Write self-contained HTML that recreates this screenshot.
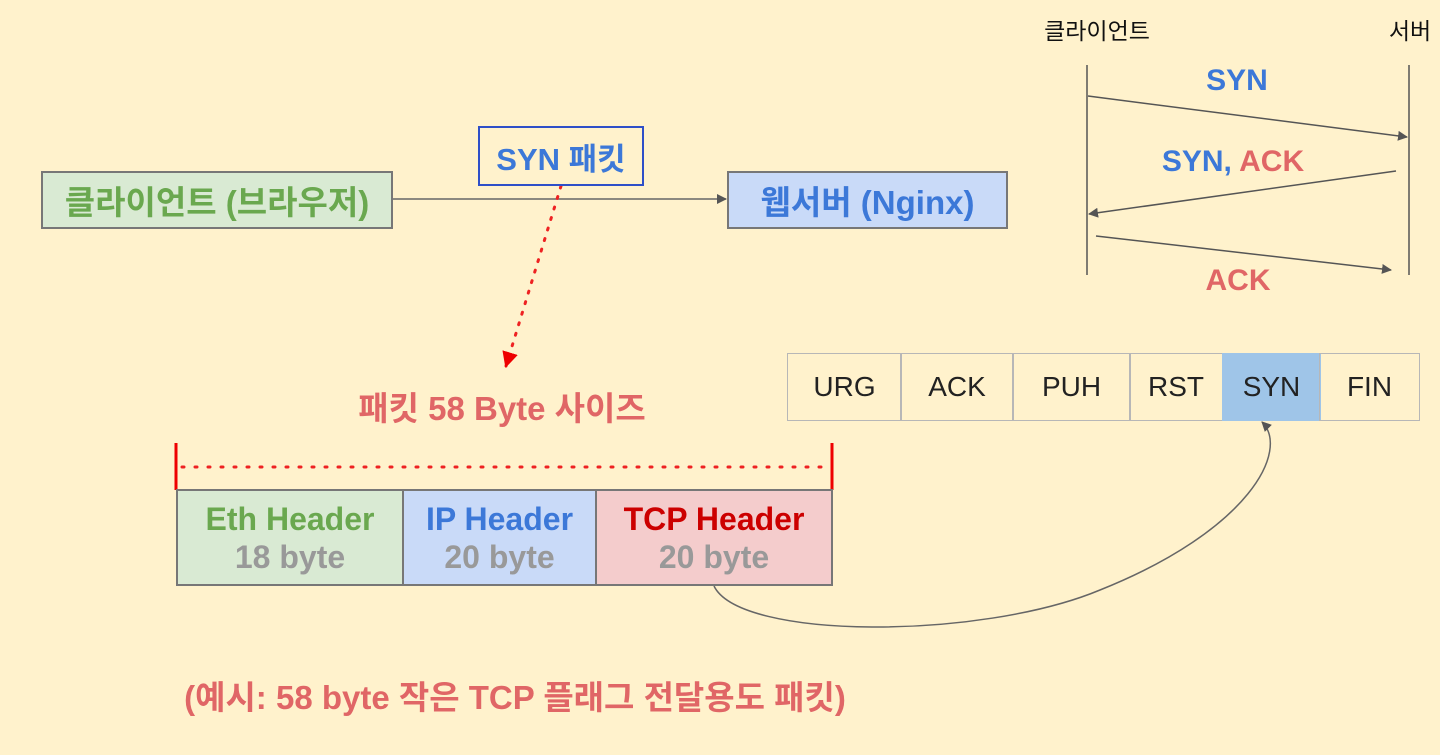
<!DOCTYPE html>
<html><head><meta charset="utf-8"><style>
body{margin:0;width:1440px;height:755px;background:#fff2cc;position:relative;overflow:hidden;font-family:"Liberation Sans","Noto Sans CJK KR",sans-serif}
.b{position:absolute;box-sizing:border-box;display:flex;align-items:center;justify-content:center;font-weight:bold}
.t{position:absolute;font-weight:bold;white-space:nowrap;transform:translate(-50%,-50%)}
.f{position:absolute;top:353px;height:68px;box-sizing:border-box;border:1.5px solid #b7b7b7;display:flex;align-items:center;justify-content:center;font-size:28px;color:#222}
</style></head><body>
<svg width="1440" height="755" style="position:absolute;left:0;top:0">
<defs>
<marker id="a" markerWidth="10" markerHeight="10" refX="9" refY="5" orient="auto" markerUnits="userSpaceOnUse"><path d="M0,0L10,5L0,10z" fill="#555"/></marker>
<marker id="r" markerWidth="16" markerHeight="16" refX="14" refY="8" orient="auto" markerUnits="userSpaceOnUse"><path d="M0,0L16,8L0,16z" fill="#e00"/></marker>
</defs>
<line x1="392" y1="199" x2="726" y2="199" stroke="#666" stroke-width="1.5" marker-end="url(#a)"/>
<line x1="561" y1="186" x2="506" y2="366" stroke="#e22" stroke-width="3" stroke-dasharray="2,9" stroke-linecap="round" marker-end="url(#r)"/>
<line x1="176" y1="443" x2="176" y2="490" stroke="#e00" stroke-width="3"/>
<line x1="832" y1="443" x2="832" y2="490" stroke="#e00" stroke-width="3"/>
<line x1="182" y1="467" x2="828" y2="467" stroke="#e22" stroke-width="3" stroke-dasharray="2,11" stroke-linecap="round"/>
<path d="M714,586 C740,640 980,640 1100,590 C1250,530 1290,450 1262,422" fill="none" stroke="#666" stroke-width="1.5" marker-end="url(#a)"/>
<line x1="1087" y1="65" x2="1087" y2="275" stroke="#555" stroke-width="1.5"/>
<line x1="1409" y1="65" x2="1409" y2="275" stroke="#555" stroke-width="1.5"/>
<line x1="1088" y1="96" x2="1407" y2="137" stroke="#555" stroke-width="1.5" marker-end="url(#a)"/>
<line x1="1396" y1="171" x2="1089" y2="214" stroke="#555" stroke-width="1.5" marker-end="url(#a)"/>
<line x1="1096" y1="236" x2="1391" y2="270" stroke="#555" stroke-width="1.5" marker-end="url(#a)"/>
</svg>
<div class="b" style="left:41px;top:171px;width:352px;height:58px;background:#d9ead3;border:2px solid #777;color:#6aa84f;font-size:33px">클라이언트 (브라우저)</div>
<div class="b" style="left:478px;top:126px;width:166px;height:60px;border:2px solid #2e4fc8;color:#3c78d8;font-size:31px">SYN 패킷</div>
<div class="b" style="left:727px;top:171px;width:281px;height:58px;background:#c9daf8;border:2px solid #777;color:#3c78d8;font-size:33px">웹서버 (Nginx)</div>
<div class="t" style="left:502px;top:406px;color:#e06666;font-size:33px">패킷 58 Byte 사이즈</div>
<div class="b" style="left:176px;top:489px;width:228px;height:97px;background:#d9ead3;border:2px solid #777;flex-direction:column;font-size:32px;line-height:38px"><span style="color:#6aa84f">Eth Header</span><span style="color:#999">18 byte</span></div>
<div class="b" style="left:402px;top:489px;width:195px;height:97px;background:#c9daf8;border:2px solid #777;flex-direction:column;font-size:32px;line-height:38px"><span style="color:#3c78d8">IP Header</span><span style="color:#999">20 byte</span></div>
<div class="b" style="left:595px;top:489px;width:238px;height:97px;background:#f4cccc;border:2px solid #777;flex-direction:column;font-size:32px;line-height:38px"><span style="color:#cc0000">TCP Header</span><span style="color:#999">20 byte</span></div>
<div class="t" style="left:515px;top:695px;color:#e06666;font-size:33px">(예시: 58 byte 작은 TCP 플래그 전달용도 패킷)</div>
<div class="f" style="left:787px;width:115px">URG</div>
<div class="f" style="left:900px;width:114px">ACK</div>
<div class="f" style="left:1012px;width:119px">PUH</div>
<div class="f" style="left:1129px;width:94px">RST</div>
<div class="f" style="left:1222px;width:99px;background:#9fc5e8;border-color:#9fc5e8">SYN</div>
<div class="f" style="left:1319px;width:101px">FIN</div>
<div class="t" style="left:1097px;top:29px;font-weight:normal;font-size:23px;color:#111">클라이언트</div>
<div class="t" style="left:1410px;top:29px;font-weight:normal;font-size:23px;color:#111">서버</div>
<div class="t" style="left:1237px;top:81px;color:#3c78d8;font-size:30px">SYN</div>
<div class="t" style="left:1233px;top:162px;font-size:30px"><span style="color:#3c78d8">SYN, </span><span style="color:#e06666">ACK</span></div>
<div class="t" style="left:1238px;top:281px;color:#e06666;font-size:30px">ACK</div>
</body></html>
